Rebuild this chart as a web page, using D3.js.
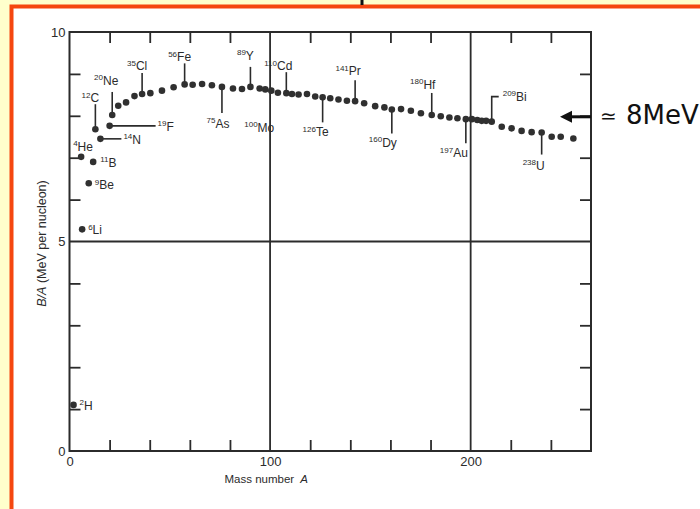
<!DOCTYPE html>
<html>
<head>
<meta charset="utf-8">
<script src="https://cdn.jsdelivr.net/npm/d3@7"></script>
<style>
  html, body { margin: 0; padding: 0; background: #ffffcc; }
  svg { display: block; }
</style>
</head>
<body>
<svg id="chart" width="700" height="509"></svg>
<script>
// ---------------- data ----------------
const massNumbers = [2, 5.8, 6.3, 9.6, 11.8, 12.9, 15.4, 20, 21.3, 24.3,
  28.2, 32.4, 36.2, 40.3, 46.1, 51.9, 57.4, 61.4, 66.1, 71,
  76, 81.5, 86, 90.2, 94.8, 97.6, 100.6, 103.9, 108.1, 110.9,
  114.2, 118.4, 122.5, 126.2, 130, 134.1, 138.3, 142.4, 146.9, 152.4,
  157, 160.7, 165.3, 170.2, 175.2, 180.6, 185.1, 189.4, 193.4, 197.6,
  200.6, 203.3, 205.5, 207.7, 210.5, 215.5, 220.4, 225.4, 230.4, 235.4,
  240.4, 244.9, 251.2];
const bindingPerNucleon = [1.10, 7.02, 5.29, 6.39, 6.90, 7.68, 7.45, 7.76, 8.02, 8.24,
  8.32, 8.47, 8.52, 8.54, 8.60, 8.68, 8.75, 8.74, 8.76, 8.73,
  8.69, 8.65, 8.64, 8.69, 8.65, 8.63, 8.60, 8.55, 8.54, 8.52,
  8.51, 8.52, 8.46, 8.44, 8.42, 8.39, 8.36, 8.35, 8.30, 8.23,
  8.20, 8.15, 8.16, 8.12, 8.06, 8.02, 7.99, 7.96, 7.94, 7.92,
  7.92, 7.90, 7.88, 7.88, 7.86, 7.74, 7.70, 7.64, 7.61, 7.60,
  7.50, 7.50, 7.46];

const labelMass   = ["2","4","6","9","11","12","14","19","20","35","56","75","89","100","110","126","141","160","180","197","209","238"];
const labelSymbol = ["H","He","Li","Be","B","C","N","F","Ne","Cl","Fe","As","Y","Mo","Cd","Te","Pr","Dy","Hf","Au","Bi","U"];
const labelPoint  = [0,1,2,3,4,5,6,7,8,12,16,20,23,26,28,33,37,41,45,49,54,59];

const xTickMinor = [20,40,60,80,120,140,160,180,220,240];
const xTickLabels = [0,100,200];
const yTickMinor = [1,2,3,4,6,7,8,9];
const yTickLabels = [0,5,10];
const xGrid = [100,200];
const yGrid = [5];
const xTitle = "Mass number ";
const xTitleVar = "A";
const yTitleVar = "B/A";
const yTitle = " (MeV per nucleon)";
const noteText = "8MeV";
const noteValue = 8;

// ---------------- layout (pixel offsets for annotations) ----------------
// leader: [type, length]; text: [anchor, dx, dy]
const labelLayout = [
  {lead:null,        t:["start", 6, 5]},
  {lead:null,        t:["start",-8,-6]},
  {lead:null,        t:["start", 6, 5]},
  {lead:null,        t:["start", 6, 6]},
  {lead:null,        t:["start", 7, 5]},
  {lead:["up",25],   t:["middle",-5,-27]},
  {lead:["right",21],t:["start",23, 5]},
  {lead:["right",46],t:["start",48, 5]},
  {lead:["up",23],   t:["middle",-6,-30]},
  {lead:["up",21],   t:["middle",-5,-24]},
  {lead:["up",21],   t:["middle",-5,-23]},
  {lead:["down",26], t:["middle",-4, 41]},
  {lead:["up",20],   t:["middle",-5,-27]},
  {lead:null,        t:["middle",-12,41]},
  {lead:["up",21],   t:["middle",-8,-23]},
  {lead:["down",25], t:["middle",-7, 39]},
  {lead:["up",21],   t:["middle",-7,-26]},
  {lead:["down",24], t:["middle",-9, 37]},
  {lead:["up",22],   t:["middle",-9,-26]},
  {lead:["down",24], t:["middle",-12,38]},
  {lead:["elbow",25],t:["start",11,-21]},
  {lead:["down",22], t:["middle",-8, 37]}
];

const ink = "#2b2b2b";
const svg = d3.select("#chart");

// slide frame
svg.append("rect").attr("x",0).attr("y",0).attr("width",700).attr("height",509).attr("fill","#ffffcc");
svg.append("rect").attr("x",11.5).attr("y",6.5).attr("width",720).attr("height",540)
  .attr("fill","#ffffff").attr("stroke","#f5470f").attr("stroke-width",4);
svg.append("rect").attr("x",360.5).attr("y",0).attr("width",3).attr("height",5).attr("fill","#111");

const x = d3.scaleLinear().domain([0,260]).range([69.5,591]);
const y = d3.scaleLinear().domain([0,10]).range([451,32]);

const g = svg.append("g");

// minor ticks (inward) on all four sides
const tk = 11;
g.append("g").attr("transform",`translate(0,${y(0)})`)
  .call(d3.axisBottom(x).tickValues(xTickMinor).tickSize(-tk).tickFormat(""));
g.append("g").attr("transform",`translate(0,${y(10)})`)
  .call(d3.axisTop(x).tickValues(xTickMinor).tickSize(-tk).tickFormat(""));
g.append("g").attr("transform",`translate(${x(0)},0)`)
  .call(d3.axisLeft(y).tickValues(yTickMinor).tickSize(-tk).tickFormat(""));
g.append("g").attr("transform",`translate(${x(260)},0)`)
  .call(d3.axisRight(y).tickValues(yTickMinor).tickSize(-tk).tickFormat(""));
// tick labels
g.append("g").attr("class","lab").attr("transform",`translate(0,${y(0)})`)
  .call(d3.axisBottom(x).tickValues(xTickLabels).tickSize(0).tickPadding(6));
g.append("g").attr("class","lab").attr("transform",`translate(${x(0)},0)`)
  .call(d3.axisLeft(y).tickValues(yTickLabels).tickSize(0).tickPadding(4));
g.selectAll(".domain").remove();
g.selectAll(".tick line").attr("stroke",ink).attr("stroke-width",1.8);
g.selectAll(".lab text").attr("fill",ink).attr("font-family","Liberation Sans, Arial, sans-serif").attr("font-size",13);

// grid lines
g.selectAll(".vg").data(xGrid).enter().append("line")
  .attr("x1",d=>x(d)).attr("x2",d=>x(d)).attr("y1",y(10)).attr("y2",y(0))
  .attr("stroke",ink).attr("stroke-width",1.8);
g.selectAll(".hg").data(yGrid).enter().append("line")
  .attr("x1",x(0)).attr("x2",x(260)).attr("y1",d=>y(d)).attr("y2",d=>y(d))
  .attr("stroke",ink).attr("stroke-width",1.8);
// frame
g.append("rect").attr("x",x(0)).attr("y",y(10)).attr("width",x(260)-x(0)).attr("height",y(0)-y(10))
  .attr("fill","none").attr("stroke",ink).attr("stroke-width",2);

// axis titles
const xt = g.append("text").attr("x",(x(0)+x(260))/2 - 64).attr("y",482.5)
  .attr("text-anchor","middle").attr("fill",ink)
  .attr("font-family","Liberation Sans, Arial, sans-serif").attr("font-size",11.5);
xt.append("tspan").text(xTitle);
xt.append("tspan").attr("font-style","italic").attr("dx",3).text(xTitleVar);

const yt = g.append("text").attr("transform",`translate(46,${(y(0)+y(10))/2 + 2}) rotate(-90)`)
  .attr("text-anchor","middle").attr("fill",ink)
  .attr("font-family","Liberation Sans, Arial, sans-serif").attr("font-size",12.5);
yt.append("tspan").attr("font-style","italic").text(yTitleVar);
yt.append("tspan").text(yTitle);

// leaders + labels
const pts = massNumbers.map((a,i)=>({a, b: bindingPerNucleon[i]}));
labelPoint.forEach((pi,k)=>{
  const cx = x(pts[pi].a), cy = y(pts[pi].b);
  const L = labelLayout[k];
  if (L.lead) {
    const [type,len] = L.lead;
    let d;
    if (type==="up") d = `M${cx},${cy} V${cy-len}`;
    else if (type==="down") d = `M${cx},${cy} V${cy+len}`;
    else if (type==="right") d = `M${cx},${cy} H${cx+len}`;
    else if (type==="elbow") d = `M${cx},${cy} V${cy-len} H${cx+7}`;
    g.append("path").attr("d",d).attr("fill","none").attr("stroke",ink).attr("stroke-width",1.6);
  }
  const [anchor,dx,dy] = L.t;
  const t = g.append("text").attr("x",cx+dx).attr("y",cy+dy).attr("text-anchor",anchor)
    .attr("fill",ink).attr("font-family","Liberation Sans, Arial, sans-serif");
  t.append("tspan").attr("font-size",8).attr("dy",-4.5).text(labelMass[k]);
  t.append("tspan").attr("font-size",12).attr("dy",4.5).text(labelSymbol[k]);
});

// points
g.selectAll("circle.pt").data(pts).enter().append("circle")
  .attr("class","pt").attr("cx",d=>x(d.a)).attr("cy",d=>y(d.b)).attr("r",3.3)
  .attr("fill","#303030");

// arrow annotation
const ay = y(noteValue) + 1;
svg.append("line").attr("x1",x(260)).attr("x2",x(260)-20).attr("y1",ay).attr("y2",ay)
  .attr("stroke","#111").attr("stroke-width",3);
svg.append("path").attr("d",`M${x(260)-31},${ay} L${x(260)-19},${ay-6} L${x(260)-19},${ay+6} Z`).attr("fill","#111");
svg.append("text").attr("x",600).attr("y",ay+6).attr("fill","#111")
  .attr("font-family","DejaVu Sans, sans-serif").attr("font-size",20).text("\u2243");
svg.append("text").attr("x",626).attr("y",ay+7).attr("fill","#111")
  .attr("font-family","DejaVu Sans, sans-serif").attr("font-size",26).text(noteText);
</script>
</body>
</html>
